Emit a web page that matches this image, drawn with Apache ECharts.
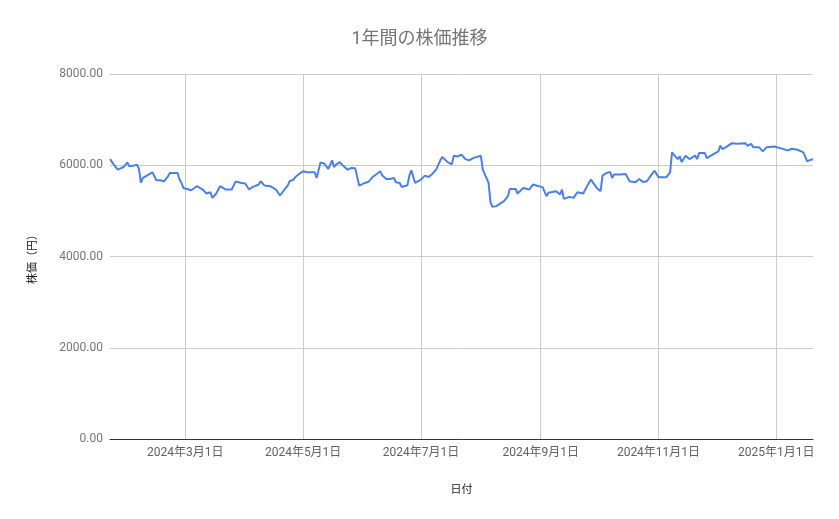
<!DOCTYPE html>
<html>
<head>
<meta charset="utf-8">
<script src="https://cdn.jsdelivr.net/npm/echarts@6/dist/echarts.min.js"></script>
<style>
html,body{margin:0;padding:0;background:#fff;}
#chart{width:839px;height:519px;}
</style>
</head>
<body>
<div id="chart"></div>
<script>
const titleText = '1年間の株価推移';
const xAxisName = '日付';
const yAxisName = '株価（円）';
const xMin = '2024-01-22';
const xMax = '2025-01-20';
const xTickDates = ['2024-03-01','2024-05-01','2024-07-01','2024-09-01','2024-11-01','2025-01-01'];
const yTicks = [0, 2000, 4000, 6000, 8000];

const dates = [
'2024-01-22','2024-01-24','2024-01-25','2024-01-26','2024-01-29','2024-01-30','2024-01-31','2024-02-01','2024-02-03','2024-02-05',
'2024-02-06','2024-02-07','2024-02-08','2024-02-09','2024-02-13','2024-02-15','2024-02-17','2024-02-19','2024-02-21','2024-02-22',
'2024-02-26','2024-02-27','2024-02-28','2024-02-29','2024-03-01','2024-03-04','2024-03-07','2024-03-10','2024-03-12','2024-03-14',
'2024-03-15','2024-03-17','2024-03-19','2024-03-22','2024-03-25','2024-03-27','2024-03-28','2024-03-30','2024-04-01','2024-04-03',
'2024-04-05','2024-04-08','2024-04-09','2024-04-11','2024-04-12','2024-04-14','2024-04-17','2024-04-18','2024-04-19','2024-04-22',
'2024-04-23','2024-04-24','2024-04-26','2024-04-27','2024-04-29','2024-05-01','2024-05-03','2024-05-07','2024-05-08','2024-05-09',
'2024-05-10','2024-05-12','2024-05-14','2024-05-16','2024-05-17','2024-05-18','2024-05-20','2024-05-22','2024-05-23','2024-05-24',
'2024-05-26','2024-05-28','2024-05-30','2024-06-02','2024-06-04','2024-06-06','2024-06-10','2024-06-11','2024-06-13','2024-06-15',
'2024-06-17','2024-06-18','2024-06-20','2024-06-21','2024-06-24','2024-06-25','2024-06-26','2024-06-28','2024-07-01','2024-07-03',
'2024-07-05','2024-07-07','2024-07-09','2024-07-11','2024-07-12','2024-07-15','2024-07-17','2024-07-18','2024-07-20','2024-07-21',
'2024-07-22','2024-07-24','2024-07-25','2024-07-26','2024-07-28','2024-08-01','2024-08-02','2024-08-05','2024-08-06','2024-08-07',
'2024-08-09','2024-08-13','2024-08-15','2024-08-16','2024-08-19','2024-08-20','2024-08-21','2024-08-23','2024-08-26','2024-08-28',
'2024-08-31','2024-09-01','2024-09-02','2024-09-04','2024-09-05','2024-09-09','2024-09-10','2024-09-11','2024-09-12','2024-09-13',
'2024-09-16','2024-09-18','2024-09-20','2024-09-23','2024-09-25','2024-09-27','2024-09-30','2024-10-02','2024-10-03','2024-10-05',
'2024-10-07','2024-10-08','2024-10-09','2024-10-12','2024-10-15','2024-10-17','2024-10-18','2024-10-20','2024-10-21','2024-10-22',
'2024-10-24','2024-10-26','2024-10-28','2024-10-30','2024-10-31','2024-11-01','2024-11-05','2024-11-07','2024-11-08','2024-11-10',
'2024-11-11','2024-11-12','2024-11-13','2024-11-15','2024-11-17','2024-11-18','2024-11-20','2024-11-21','2024-11-22','2024-11-25',
'2024-11-26','2024-11-29','2024-12-02','2024-12-03','2024-12-04','2024-12-06','2024-12-09','2024-12-12','2024-12-13','2024-12-16',
'2024-12-17','2024-12-19','2024-12-20','2024-12-23','2024-12-24','2024-12-25','2024-12-27','2024-12-31','2025-01-03','2025-01-07',
'2025-01-08','2025-01-09','2025-01-12','2025-01-15','2025-01-17','2025-01-19','2025-01-20'
];

const prices = [
6135,6013,6048,5904,5961,5976,6063,5976,5991,6013,
5917,5612,5721,5699,5845,5671,5671,5649,5758,5830,
5830,5686,5612,5503,5525,5453,5540,5468,5381,5409,
5285,5381,5540,5468,5468,5642,5599,5612,5599,5468,
5525,5577,5649,5555,5577,5540,5468,5481,5337,5503,
5555,5649,5686,5743,5816,5867,5845,5845,5721,5721,
6063,6035,5917,6107,5961,6013,6070,5976,5961,5904,
5939,5932,5555,5612,5642,5743,5867,5773,5699,5699,
5721,5627,5612,5525,5562,5773,5889,5612,5686,5773,
5743,5816,5917,6107,6179,6063,6019,6209,6194,6216,
6231,6135,6157,6107,6157,6209,5904,5612,5191,5088,
5104,5213,5322,5481,5481,5381,5409,5503,5468,5577,
5540,5503,5520,5322,5395,5431,5416,5359,5468,5263,
5307,5285,5409,5381,5540,5686,5503,5431,5773,5830,
5852,5721,5795,5795,5808,5649,5671,5627,5599,5699,
5634,5649,5773,5882,5845,5736,5736,5845,6281,6179,
6135,6194,6070,6209,6135,6100,6209,6135,6267,6267,
6157,6231,6303,6434,6353,6397,6484,6470,6449,6484,
6427,6470,6397,6397,6375,6303,6397,6412,6375,6325,
6318,6362,6340,6281,6085,6122,6130
];

function toTime(s){
  const p = s.split('-').map(Number);
  return Date.UTC(p[0], p[1]-1, p[2]);
}
function fmtDate(v){
  const d = new Date(v);
  return d.getUTCFullYear() + '年' + (d.getUTCMonth()+1) + '月' + d.getUTCDate() + '日';
}
const tickTimes = xTickDates.map(toTime);

const chart = echarts.init(document.getElementById('chart'), null, {renderer:'canvas'});

chart.setOption({
  animation: false,
  backgroundColor: '#ffffff',
  textStyle: {fontFamily: 'Roboto, "Noto Sans CJK JP", sans-serif'},
  title: {
    text: titleText,
    left: 'center',
    top: 26,
    textStyle: {fontSize: 18, fontWeight: 'normal', color: '#757575', fontFamily: 'Roboto, "Noto Sans CJK JP", sans-serif'}
  },
  grid: {left: 110, right: 26, top: 74, bottom: 80, containLabel: false},
  xAxis: {
    type: 'value',
    min: toTime(xMin),
    max: toTime(xMax),
    name: xAxisName,
    nameLocation: 'middle',
    nameGap: 44,
    nameTextStyle: {fontSize: 11, color: '#222222', fontFamily: '"Noto Sans CJK JP", sans-serif'},
    axisLine: {show: true, onZero: false, lineStyle: {color: '#333333', width: 1}},
    axisTick: {show: false, customValues: tickTimes},
    axisLabel: {
      customValues: tickTimes,
      formatter: v => fmtDate(v),
      fontSize: 12,
      color: '#616161',
      margin: 8
    },
    splitLine: {show: true, lineStyle: {color: '#cccccc', width: 1}}
  },
  yAxis: {
    type: 'value',
    min: yTicks[0],
    max: yTicks[yTicks.length-1],
    interval: 2000,
    name: yAxisName,
    nameLocation: 'middle',
    nameGap: 73,
    nameRotate: 90,
    nameTextStyle: {fontSize: 11, color: '#222222', fontFamily: '"Noto Sans CJK JP", sans-serif'},
    axisLine: {show: false},
    axisTick: {show: false},
    axisLabel: {formatter: v => v.toFixed(2), fontSize: 12, color: '#757575', margin: 7},
    splitLine: {show: true, lineStyle: {color: '#cccccc', width: 1}}
  },
  series: [{
    type: 'line',
    data: dates.map((d, i) => [toTime(d), prices[i]]),
    showSymbol: false,
    symbol: 'none',
    lineStyle: {color: '#4a80e8', width: 2},
    itemStyle: {color: '#4a80e8'},
    z: 3
  }]
});
</script>
</body>
</html>
